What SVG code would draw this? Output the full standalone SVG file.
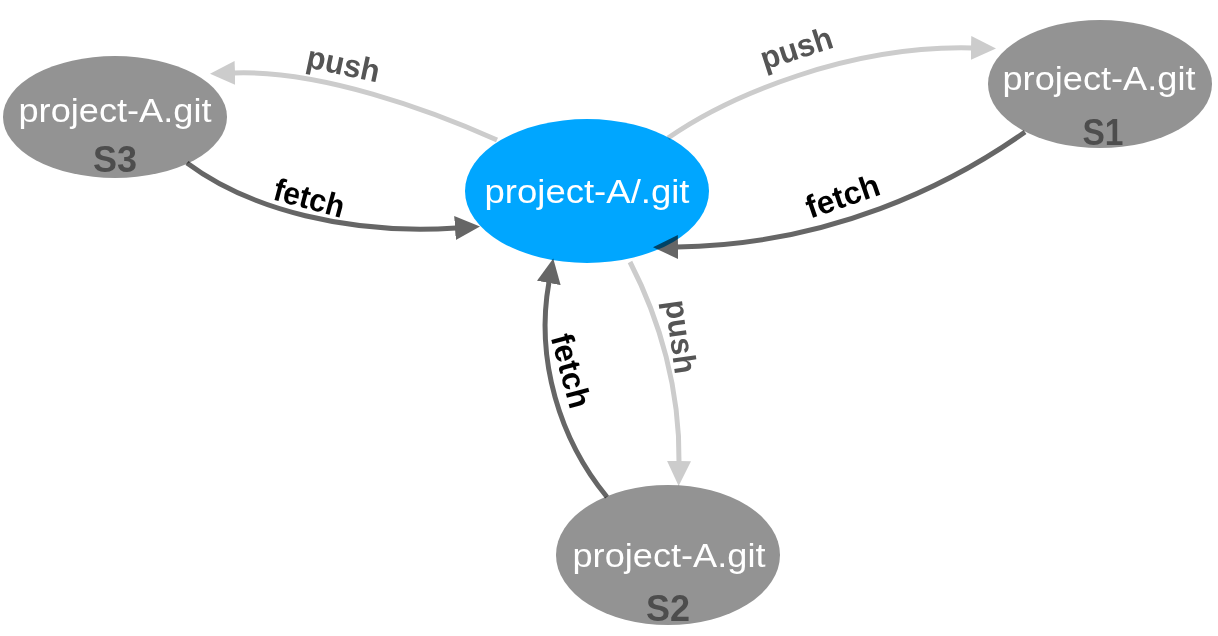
<svg xmlns="http://www.w3.org/2000/svg" width="1218" height="636" viewBox="0 0 1218 636">
<style>
.node-gray{fill:#939393;}
.node-blue{fill:#00a6ff;}
.name{font-family:"Liberation Sans",Arial,sans-serif;font-size:33px;fill:#ffffff;text-anchor:middle;}
.sid{font-family:"Liberation Sans",Arial,sans-serif;font-size:36px;font-weight:bold;fill:#4d4d4d;text-anchor:middle;}
.push{fill:none;stroke:#cccccc;stroke-width:5;}
.fetch{fill:none;stroke:#666666;stroke-width:5;}
.lbl{font-family:"Liberation Sans",Arial,sans-serif;font-size:32px;font-weight:bold;text-anchor:middle;}
.lpush{fill:#555555;}
.lfetch{fill:#000000;}
#connectors{mix-blend-mode:multiply;}
</style>
<defs>
<marker id="arrPush" markerUnits="userSpaceOnUse" markerWidth="25" markerHeight="24" viewBox="0 0 25 24" refX="1" refY="12" orient="auto">
<path d="M0,0 L25,12 L0,24 Z" fill="#cccccc"/>
</marker>
<marker id="arrFetch" markerUnits="userSpaceOnUse" markerWidth="25" markerHeight="24" viewBox="0 0 25 24" refX="1" refY="12" orient="auto">
<path d="M0,0 L25,12 L0,24 Z" fill="#666666"/>
</marker>
</defs>
<rect width="1218" height="636" fill="#ffffff"/>
<g id="node-center">
<ellipse class="node-blue" cx="587" cy="191" rx="122" ry="72"/>
<text class="name" x="587" y="203" textLength="205" lengthAdjust="spacingAndGlyphs">project-A/.git</text>
</g>
<g id="node-s3">
<ellipse class="node-gray" cx="115" cy="117" rx="112" ry="61"/>
<text class="name" x="115" y="122" textLength="193" lengthAdjust="spacingAndGlyphs">project-A.git</text>
<text class="sid" x="115" y="172" textLength="44" lengthAdjust="spacingAndGlyphs">S3</text>
</g>
<g id="node-s1">
<ellipse class="node-gray" cx="1100" cy="84" rx="112" ry="64"/>
<text class="name" x="1099" y="90" textLength="193" lengthAdjust="spacingAndGlyphs">project-A.git</text>
<text class="sid" x="1103" y="145" textLength="41" lengthAdjust="spacingAndGlyphs">S1</text>
</g>
<g id="node-s2">
<ellipse class="node-gray" cx="668" cy="555" rx="112" ry="70"/>
<text class="name" x="669" y="567" textLength="193" lengthAdjust="spacingAndGlyphs">project-A.git</text>
<text class="sid" x="668" y="621" textLength="44" lengthAdjust="spacingAndGlyphs">S2</text>
</g>
<g id="connectors">
<path class="push" d="M497,140 C430,110 320,70 234,73" marker-end="url(#arrPush)"/>
<path class="fetch" d="M187,163 C250,210 350,235 456,228" marker-end="url(#arrFetch)"/>
<path class="push" d="M668,138 C730,95 850,45 972,48" marker-end="url(#arrPush)"/>
<path class="fetch" d="M1025,132 C950,185 830,245 677,247" marker-end="url(#arrFetch)"/>
<path class="push" d="M630,262 C660,320 680,390 679,462" marker-end="url(#arrPush)"/>
<path class="fetch" d="M607,497 C560,440 535,360 549,282" marker-end="url(#arrFetch)"/>
</g>
<g id="labels">
<text class="lbl lpush" transform="translate(343,66) rotate(12)" y="9" textLength="74" lengthAdjust="spacingAndGlyphs">push</text>
<text class="lbl lfetch" transform="translate(309,199) rotate(15)" y="10" textLength="72" lengthAdjust="spacingAndGlyphs">fetch</text>
<text class="lbl lpush" transform="translate(797,50) rotate(-18)" y="9" textLength="74" lengthAdjust="spacingAndGlyphs">push</text>
<text class="lbl lfetch" transform="translate(843,197) rotate(-19)" y="10" textLength="76" lengthAdjust="spacingAndGlyphs">fetch</text>
<text class="lbl lpush" transform="translate(679,337) rotate(82)" y="9" textLength="74" lengthAdjust="spacingAndGlyphs">push</text>
<text class="lbl lfetch" transform="translate(570,371) rotate(75)" y="10" textLength="76" lengthAdjust="spacingAndGlyphs">fetch</text>
</g>
</svg>
